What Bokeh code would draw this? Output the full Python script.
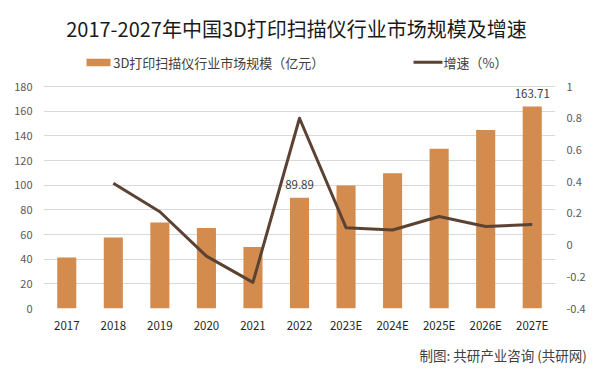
from bokeh.plotting import figure
from bokeh.models import (ColumnDataSource, FactorRange, Range1d, LinearAxis, FixedTicker,
                          CustomJSTickFormatter, Label, BoxAnnotation, Title)
from bokeh.core.properties import value
from bokeh.embed import file_html
from bokeh.resources import INLINE

# ---- data ----
years = ["2017", "2018", "2019", "2020", "2021", "2022", "2023E", "2024E", "2025E", "2026E", "2027E"]
market_size = [41.4, 57.6, 69.7, 65.2, 49.8, 89.89, 99.7, 109.6, 129.6, 144.8, 163.71]
growth_years = ["2018", "2019", "2020", "2021", "2022", "2023E", "2024E", "2025E", "2026E", "2027E"]
growth_rate = [0.39, 0.21, -0.07, -0.235, 0.80, 0.11, 0.095, 0.18, 0.117, 0.13]
left_ticks = [0, 20, 40, 60, 80, 100, 120, 140, 160, 180]
right_ticks = [-0.4, -0.2, 0, 0.2, 0.4, 0.6, 0.8, 1]
label_years = ["2022", "2027E"]
label_values = [89.89, 163.71]

title_text = "2017-2027年中国3D打印扫描仪行业市场规模及增速"
legend_bar = "3D打印扫描仪行业市场规模（亿元）"
legend_line = "增速（%）"
source_text = "制图: 共研产业咨询 (共研网)"

FONT = "Noto Sans CJK SC"
BAR = "#D38C4D"
LINE = "#5C4232"

# frame spans the top of the canvas down to the x axis; the value axes keep
# their ticks only over 0..180 and -0.4..1, the extra headroom holds title/legend
p = figure(width=600, height=374, x_range=FactorRange(factors=years),
           y_range=Range1d(0, 249.73), output_backend="svg", toolbar_location=None,
           min_border_left=43, min_border_right=45, min_border_top=0, min_border_bottom=66)
p.extra_y_ranges = {"g": Range1d(-0.4, 1.5424)}
p.outline_line_color = None
p.background_fill_color = "white"
p.border_fill_color = "white"

# axes
p.yaxis.ticker = FixedTicker(ticks=left_ticks)
p.ygrid.ticker = FixedTicker(ticks=left_ticks)
p.ygrid.grid_line_color = "#D9D9D9"
p.xgrid.grid_line_color = None
for ax in [p.xaxis[0], p.yaxis[0]]:
    ax.axis_line_color = None
    ax.major_tick_line_color = None
    ax.minor_tick_line_color = None
    ax.major_tick_out = 0
    ax.major_tick_in = 0
    ax.major_label_text_font = FONT
p.yaxis.major_label_text_font_size = "11px"
p.yaxis.major_label_text_color = "#595959"
p.yaxis.major_label_standoff = 11
p.xaxis.major_label_text_font_size = "11.5px"
p.xaxis.major_label_text_color = "#262626"
p.xaxis.major_label_standoff = 8

raxis = LinearAxis(y_range_name="g", ticker=FixedTicker(ticks=right_ticks),
                   formatter=CustomJSTickFormatter(code="return (Math.round(tick*10)/10).toString();"))
raxis.axis_line_color = None
raxis.major_tick_line_color = None
raxis.minor_tick_line_color = None
raxis.major_tick_out = 0
raxis.major_tick_in = 0
raxis.major_label_text_font = FONT
raxis.major_label_text_font_size = "11px"
raxis.major_label_text_color = "#595959"
raxis.major_label_standoff = 11
p.add_layout(raxis, "right")

# bars
bar_src = ColumnDataSource(data=dict(x=years, y=market_size))
p.vbar(x="x", top="y", width=0.41, source=bar_src, fill_color=BAR, line_color=None)

# growth line
line_src = ColumnDataSource(data=dict(x=growth_years, y=growth_rate))
p.line(x="x", y="y", source=line_src, y_range_name="g", line_color=LINE, line_width=3,
       line_join="round")

# data labels
lab_src = ColumnDataSource(data=dict(x=label_years, y=label_values,
                                     t=[f"{v:.2f}" for v in label_values]))
p.text(x="x", y="y", text="t", source=lab_src, y_offset=-13, text_align="center",
       text_baseline="middle", text_font=value(FONT), text_font_size="11.5px",
       text_color="#404040")

# title (screen units relative to frame bottom-left)
p.add_layout(Label(x=253, y=280, x_units="screen", y_units="screen", text=title_text,
                   text_font=FONT, text_font_size="20px", text_color="#1A1A1A",
                   text_align="center", text_baseline="middle"))

# legend
p.add_layout(BoxAnnotation(left=43, right=67, top=249.7, bottom=242.3,
                           left_units="screen", right_units="screen",
                           top_units="screen", bottom_units="screen",
                           fill_color=BAR, fill_alpha=1, line_color=None))
p.add_layout(Label(x=69.7, y=246, x_units="screen", y_units="screen", text=legend_bar,
                   text_font=FONT, text_font_size="13px", text_color="#404040",
                   text_baseline="middle"))
p.add_layout(BoxAnnotation(left=370, right=399, top=247.8, bottom=244.8,
                           left_units="screen", right_units="screen",
                           top_units="screen", bottom_units="screen",
                           fill_color=LINE, fill_alpha=1, line_color=None))
p.add_layout(Label(x=400, y=246, x_units="screen", y_units="screen", text=legend_line,
                   text_font=FONT, text_font_size="13px", text_color="#404040",
                   text_baseline="middle"))

# source line below the axis
p.add_layout(Title(text=source_text, align="left", offset=376, standoff=14,
                   text_font=FONT, text_font_size="13.5px", text_font_style="normal",
                   text_color="#404040"), "below")

# separator and logo (below the frame)
p.add_layout(BoxAnnotation(left=-43, right=557, top=-32.5, bottom=-33.5,
                           left_units="screen", right_units="screen",
                           top_units="screen", bottom_units="screen",
                           fill_color="#E6E6E6", fill_alpha=1, line_color=None))
p.add_layout(BoxAnnotation(left=354, right=368, top=-42, bottom=-56,
                           left_units="screen", right_units="screen",
                           top_units="screen", bottom_units="screen",
                           fill_color="#F28C3A", fill_alpha=1, line_color=None,
                           border_radius=3))
p.add_layout(Label(x=361, y=-49, x_units="screen", y_units="screen", text="G",
                   text_font=FONT, text_font_size="11px", text_font_style="bold",
                   text_color="white", text_align="center", text_baseline="middle"))

open("out.html", "w").write(file_html(p, INLINE))
